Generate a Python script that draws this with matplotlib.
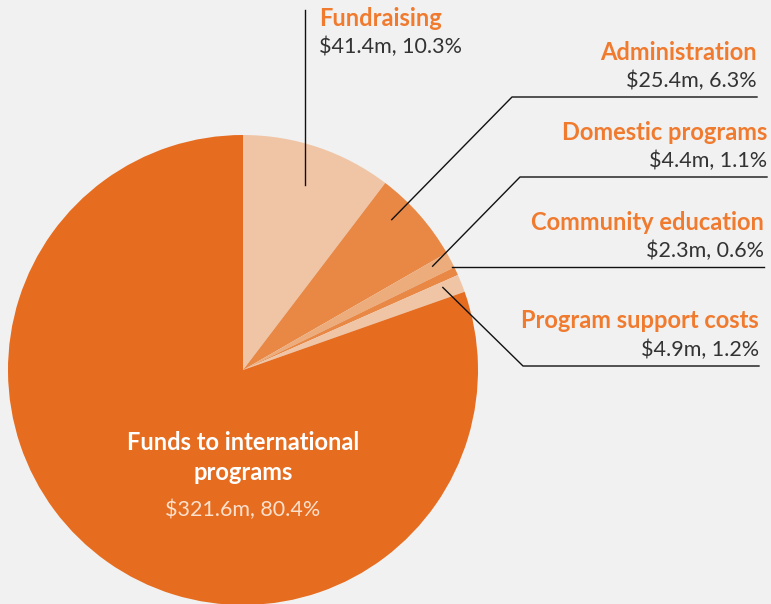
import matplotlib.pyplot as plt
import numpy as np

# Expenditure breakdown ($m), clockwise from 12 o'clock
labels = ['Fundraising', 'Administration', 'Domestic programs',
          'Community education', 'Program support costs',
          'Funds to international programs']
amounts = [41.4, 25.4, 4.4, 2.3, 4.9, 321.6]
shares = [10.3, 6.3, 1.1, 0.6, 1.2, 80.4]
colors = ['#F0C5A6', '#E88844', '#EDAC7C', '#E88844', '#F0C5A6', '#E66C20']

W, H = 771, 604
fig = plt.figure(figsize=(W / 100, H / 100), dpi=100, facecolor='#F1F1F1')
ax = fig.add_axes([0, 0, 1, 1])

cx, cy, R = 243, H - 370, 235
wedges, _ = ax.pie(amounts, colors=colors, startangle=90, counterclock=False,
                   center=(cx, cy), radius=R, frame=True,
                   wedgeprops=dict(linewidth=0))
ax.set_xlim(0, W)
ax.set_ylim(0, H)
ax.axis('off')

font = 'Lato'
orange = '#F07A2E'
dark = '#333333'
ts, vs = 17, 15.5


def anchor(w, frac, shift=0.0):
    a = np.deg2rad((w.theta1 + w.theta2) / 2 + shift)
    return cx + frac * R * np.cos(a), cy + frac * R * np.sin(a)


# Fundraising: vertical leader, text to the right
x0, y0 = anchor(wedges[0], 0.83)
ax.plot([x0, x0], [y0, H - 10], color='#111111', lw=1)
ax.text(319, H - 18, labels[0], color=orange, fontsize=ts, fontweight='bold',
        family=font, va='center', ha='left')
ax.text(319, H - 47, f'${amounts[0]}m, {shares[0]}%', color=dark, fontsize=vs,
        fontweight='normal', family=font, va='center', ha='left')

# Right side labels: (index, radius frac, angle shift, elbow x, line y, line end x)
right = [
    (1, 0.90, 4.0, 512, 97, 757),
    (2, 0.92, 0.8, 520, 177, 767),
    (3, 0.99, 1.0, None, 267, 764),
    (4, 0.92, 0.8, 523, 366, 759),
]
for i, frac, sh, ex, ly, lx_end in right:
    x0, y0 = anchor(wedges[i], frac, sh)
    yy = H - ly
    if ex is None:
        ax.plot([x0, lx_end], [yy, yy], color='#111111', lw=1)
    else:
        ax.plot([x0, ex, lx_end], [y0, yy, yy], color='#111111', lw=1)
    ax.text(lx_end, yy + 45, labels[i], color=orange, fontsize=ts,
            fontweight='bold', family=font, va='center', ha='right')
    ax.text(lx_end, yy + 16, f'${amounts[i]}m, {shares[i]}%', color=dark,
            fontsize=vs, fontweight='normal', family=font, va='center', ha='right')

# Main slice label
ax.text(243, H - 443, 'Funds to international', color='white', fontsize=ts,
        fontweight='bold', family=font, ha='center', va='center')
ax.text(243, H - 473, 'programs', color='white', fontsize=ts,
        fontweight='bold', family=font, ha='center', va='center')
ax.text(243, H - 510, f'${amounts[5]}m, {shares[5]}%', color='#FBE0CC',
        fontsize=vs, fontweight='normal', family=font, ha='center', va='center')

fig.savefig('out.png', dpi=100, facecolor=fig.get_facecolor())
